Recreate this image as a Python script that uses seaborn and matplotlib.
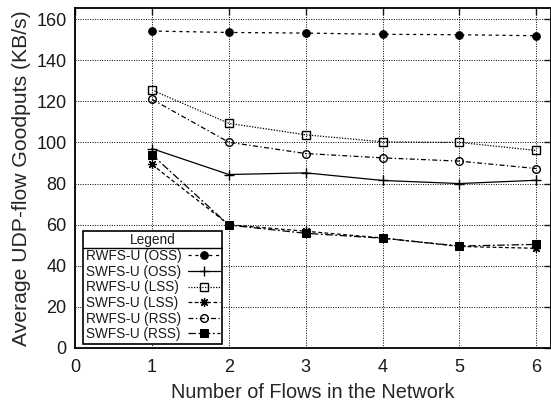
import matplotlib
matplotlib.use("Agg")
import matplotlib.pyplot as plt
from matplotlib.lines import Line2D
import seaborn as sns
import pandas as pd

flows = [1, 2, 3, 4, 5, 6]

rwfs_oss = [154.2, 153.5, 153.2, 152.6, 152.4, 151.9]
swfs_oss = [97.0, 84.4, 85.2, 81.5, 80.0, 81.6]
rwfs_lss = [125.5, 109.3, 103.7, 100.3, 100.0, 96.1]
swfs_lss = [89.3, 60.0, 56.8, 53.5, 49.4, 48.5]
rwfs_rss = [121.0, 100.1, 94.6, 92.5, 90.9, 87.3]
swfs_rss = [94.1, 59.8, 55.8, 53.4, 49.6, 50.4]

labels = ["RWFS-U (OSS)", "SWFS-U (OSS)", "RWFS-U (LSS)",
          "SWFS-U (LSS)", "RWFS-U (RSS)", "SWFS-U (RSS)"]
x_ticks = [0, 1, 2, 3, 4, 5, 6]
y_ticks = [0, 20, 40, 60, 80, 100, 120, 140, 160]

series = [rwfs_oss, swfs_oss, rwfs_lss, swfs_lss, rwfs_rss, swfs_rss]
styles = [
    dict(linestyle=(0, (2.5, 3)), marker="o", markersize=5.5, markerfacecolor="black"),
    dict(linestyle="-", marker="+", markersize=7.5, markeredgewidth=1.0),
    dict(linestyle=(0, (1, 1.2)), marker="s", markersize=5.5, markerfacecolor="none", markeredgewidth=1.0),
    dict(linestyle=(0, (3, 2)), marker=(8, 2, 0), markersize=6.5, markeredgewidth=0.9),
    dict(linestyle=(0, (4, 2, 1, 2)), marker="o", markersize=5.5, markerfacecolor="none", markeredgewidth=1.0),
    dict(linestyle=(0, (6, 2, 1.5, 2)), marker="s", markersize=6, markerfacecolor="black"),
]

sns.set_style("white")
plt.rcParams["font.family"] = ["Liberation Sans", "DejaVu Sans"]
plt.rcParams["text.color"] = "#1a1a1a"

fig = plt.figure(figsize=(5.51, 4.09), dpi=100)
ax = fig.add_axes([75 / 551, 61 / 409, 476 / 551, 340 / 409])

for lab, vals, st in zip(labels, series, styles):
    df = pd.DataFrame({"flows": flows, "goodput": vals})
    sns.lineplot(data=df, x="flows", y="goodput", ax=ax, color="black",
                 linewidth=0.9, markeredgecolor="black", label=lab, **st)

ax.set_xlim(0, 6.19)
ax.set_ylim(0, 165.4)
ax.set_xticks(x_ticks)
ax.set_yticks(y_ticks)
ax.tick_params(direction="in", length=5, width=1, top=True, right=True,
               labelsize=13, colors="#1a1a1a")
ax.tick_params(axis="x", pad=8)
ax.tick_params(axis="y", pad=6)
ax.grid(True, color="black", linestyle=(0, (1, 1.5)), linewidth=0.7)
for sp in ax.spines.values():
    sp.set_linewidth(1.3)
    sp.set_color("black")

ax.set_xlabel("Number of Flows in the Network", fontsize=14.3, labelpad=5)
ax.set_ylabel("Average UDP-flow Goodputs (KB/s)", fontsize=15.2, labelpad=4)

leg = ax.legend(title="Legend", loc="lower left", bbox_to_anchor=(0.017, 0.012),
                fontsize=9.8, title_fontsize=9.8, frameon=True, fancybox=False,
                edgecolor="black", framealpha=1, handlelength=2.3,
                borderpad=0.2, labelspacing=0.12, handletextpad=0.5,
                borderaxespad=0.0, markerfirst=False)
leg.get_frame().set_linewidth(1.2)

# left-align the labels while keeping the line samples in one column on the right
fig.canvas.draw()
renderer = fig.canvas.get_renderer()
px_per_pt = fig.dpi / 72.0
widths = [t.get_window_extent(renderer).width for t in leg.get_texts()]
wmax = max(widths)
rows = [row for col in leg._legend_handle_box.get_children()
        for row in col.get_children()]
for row, w in zip(rows, widths):
    row.sep = row.sep + (wmax - w) / px_per_pt
for col in leg._legend_handle_box.get_children():
    col.align = "left"

# rule under the legend title
fig.canvas.draw()
frame_bb = leg.get_frame().get_window_extent(renderer)
title_bb = leg.get_title().get_window_extent(renderer)
y_rule = title_bb.y0 - 1
inv = fig.transFigure.inverted()
(x0f, yf), = inv.transform([(frame_bb.x0, y_rule)])
(x1f, _), = inv.transform([(frame_bb.x1, y_rule)])
fig.add_artist(Line2D([x0f, x1f], [yf, yf], color="black", linewidth=1.0,
                      transform=fig.transFigure, zorder=10))

fig.savefig("out.png", dpi=100)
